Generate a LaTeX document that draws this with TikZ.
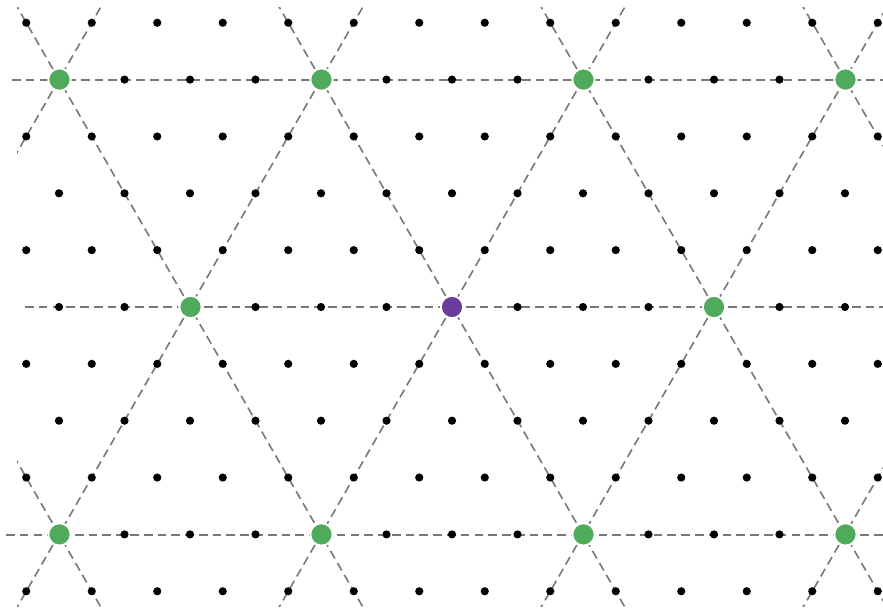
\documentclass[tikz,border=0pt]{standalone}
\usepackage{xcolor}
\usepackage{tikz}
\usetikzlibrary{positioning}

\definecolor{hostgreen}{RGB}{80,170,92}
\definecolor{dopant}{RGB}{106,61,154}
\definecolor{guidegray}{RGB}{120,120,120}

\begin{document}
\begin{tikzpicture}[
    x=0.025cm, y=-0.025cm,
    site/.style = {circle, fill=black, inner sep=0pt, minimum size=0.205cm},
    host/.style = {circle, fill=hostgreen, draw=white, line width=1.4pt, inner sep=0pt, minimum size=0.56cm},
    center/.style = {circle, fill=dopant, draw=white, line width=1.4pt, inner sep=0pt, minimum size=0.56cm},
    guide/.style = {draw=guidegray, line width=1.15pt, dash pattern=on 6.2pt off 3.6pt}
]
    \useasboundingbox (0,0) rectangle (883,609);

    % Guide lines - horizontal
    \draw [guide] (12,80) -- (883,80);
    \draw [guide] (25,307) -- (883,307);
    \draw [guide] (6,535) -- (883,535);

    % Guide lines - diagonal
    \begin{scope}
        \clip (17,8) rectangle (883,607);
        \foreach \m in {-2,...,2} {
            \draw [guide] ({452+262*\m-32.75*6},{307+56.85*6}) -- ({452+262*\m+32.75*6},{307-56.85*6});
            \draw [guide] ({452+262*\m-32.75*6},{307-56.85*6}) -- ({452+262*\m+32.75*6},{307+56.85*6});
        }
    \end{scope}

    % Lattice - even rows
    \foreach \j in {-4,-2,0,2,4}
        \foreach \k in {-6,...,6}
            \node [site] (s\j\k) at ({452+65.5*\k},{307-56.85*\j}) {};

    % Lattice - odd rows
    \foreach \j in {-5,-3,-1,1,3,5}
        \foreach \k in {-7,...,6}
            \node [site] (s\j\k) at ({452+65.5*(\k+0.5)},{307-56.85*\j}) {};

    % Top Row
    \node [host] (g1) at (59.5,79.6) {};
    \node [host] (g2) at (321.5,79.6) {};
    \node [host] (g3) at (583.5,79.6) {};
    \node [host] (g4) at (845.5,79.6) {};

    % Middle Row
    \node [host] (g5) at (190.5,307) {};
    \node [center] (c0) at (452,307) {};
    \node [host] (g6) at (714,307) {};

    % Bottom Row
    \node [host] (g7) at (59.5,534.4) {};
    \node [host] (g8) at (321.5,534.4) {};
    \node [host] (g9) at (583.5,534.4) {};
    \node [host] (g10) at (845.5,534.4) {};
\end{tikzpicture}
\end{document}
